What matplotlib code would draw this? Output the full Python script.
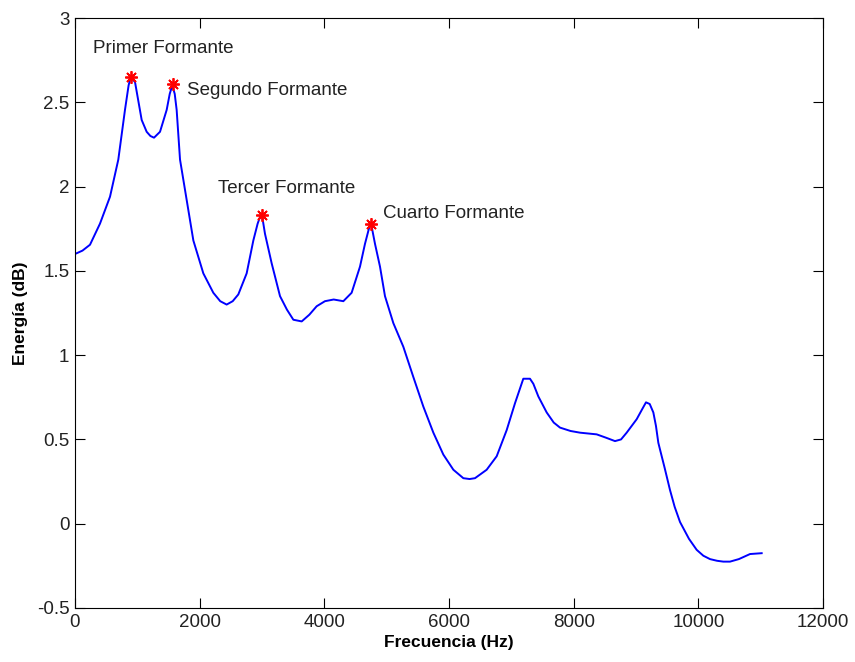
import matplotlib
matplotlib.use("Agg")
import matplotlib.pyplot as plt
from matplotlib.ticker import FixedLocator, FixedFormatter

# Spectral envelope (frequency in Hz, energy in dB)
freq = [0, 120, 241, 401, 562, 695, 802, 860, 893, 963, 1020, 1070, 1150, 1210,
        1268, 1364, 1471, 1520, 1561, 1600, 1631, 1685, 1792, 1899, 2059, 2219,
        2330, 2433, 2530, 2620, 2754, 2861, 2930, 2968, 3000, 3048, 3155, 3289,
        3400, 3503, 3637, 3760, 3877, 4010, 4150, 4305, 4438, 4572, 4652, 4722,
        4750, 4813, 4893, 4973, 5107, 5267, 5428, 5588, 5749, 5909, 6070, 6230,
        6330, 6417, 6604, 6765, 6925, 7059, 7192, 7299, 7353, 7433, 7567, 7680,
        7781, 7950, 8102, 8369, 8520, 8663, 8760, 8850, 9011, 9100, 9160, 9220,
        9278, 9320, 9358, 9385, 9460, 9545, 9620, 9706, 9850, 9973, 10080, 10187,
        10300, 10401, 10508, 10650, 10829, 11016]
energia = [1.60, 1.62, 1.655, 1.78, 1.94, 2.16, 2.455, 2.60, 2.65, 2.62, 2.50, 2.395, 2.325, 2.30,
           2.29, 2.325, 2.455, 2.55, 2.60, 2.55, 2.455, 2.16, 1.92, 1.68, 1.485, 1.37,
           1.32, 1.30, 1.32, 1.36, 1.485, 1.68, 1.78, 1.82, 1.83, 1.72, 1.545, 1.35,
           1.27, 1.21, 1.20, 1.24, 1.29, 1.32, 1.33, 1.32, 1.37, 1.525, 1.66, 1.76,
           1.78, 1.66, 1.525, 1.35, 1.19, 1.05, 0.87, 0.695, 0.54, 0.41, 0.32, 0.27,
           0.265, 0.27, 0.32, 0.40, 0.555, 0.715, 0.86, 0.86, 0.83, 0.755, 0.66, 0.60,
           0.57, 0.55, 0.54, 0.53, 0.51, 0.49, 0.50, 0.54, 0.62, 0.68, 0.72, 0.71,
           0.66, 0.58, 0.48, 0.44, 0.33, 0.20, 0.10, 0.01, -0.09, -0.155, -0.19, -0.21,
           -0.22, -0.225, -0.225, -0.21, -0.18, -0.175]

# Formant peaks and their labels
formant_freq = [900, 1580, 3000, 4750]
formant_energia = [2.65, 2.61, 1.83, 1.78]
formant_names = ["Primer Formante", "Segundo Formante", "Tercer Formante", "Cuarto Formante"]
label_pos = [(290, 2.82), (1800, 2.57), (2290, 1.99), (4940, 1.84)]

xticks = [0, 2000, 4000, 6000, 8000, 10000, 12000]
yticks = [-0.5, 0, 0.5, 1, 1.5, 2, 2.5, 3]
ytick_labels = ["-0.5", "0", "0.5", "1", "1.5", "2", "2.5", "3"]

plt.rcParams["font.family"] = ["Liberation Sans", "DejaVu Sans"]

fig = plt.figure(figsize=(8.55, 6.62), dpi=100)
ax = fig.add_axes([0.0877, 0.0816, 0.8749, 0.8912])

ax.plot(freq, energia, color=(0, 0, 1), lw=1.4)
# eight-armed asterisk markers on the formant peaks
ax.plot(formant_freq, formant_energia, linestyle="none", marker=(8, 2, 0),
        color="red", markersize=9, markeredgewidth=1.3)

for name, (tx, ty) in zip(formant_names, label_pos):
    ax.text(tx, ty, name, fontsize=13.5, color="#222222", va="center", ha="left")

ax.set_xlim(0, 12000)
ax.set_ylim(-0.5, 3)
ax.xaxis.set_major_locator(FixedLocator(xticks))
ax.xaxis.set_major_formatter(FixedFormatter([str(v) for v in xticks]))
ax.yaxis.set_major_locator(FixedLocator(yticks))
ax.yaxis.set_major_formatter(FixedFormatter(ytick_labels))
ax.tick_params(direction="in", length=7, width=0.8, top=True, right=True,
               labelsize=13.5, labelcolor="#222222", pad=4)
for sp in ax.spines.values():
    sp.set_linewidth(0.8)

ax.set_xlabel("Frecuencia (Hz)", fontsize=12.5, fontweight="bold", labelpad=3)
ax.set_ylabel("Energía (dB)", fontsize=12.5, fontweight="bold", labelpad=6)

fig.savefig("out.png", dpi=100, facecolor="white")
